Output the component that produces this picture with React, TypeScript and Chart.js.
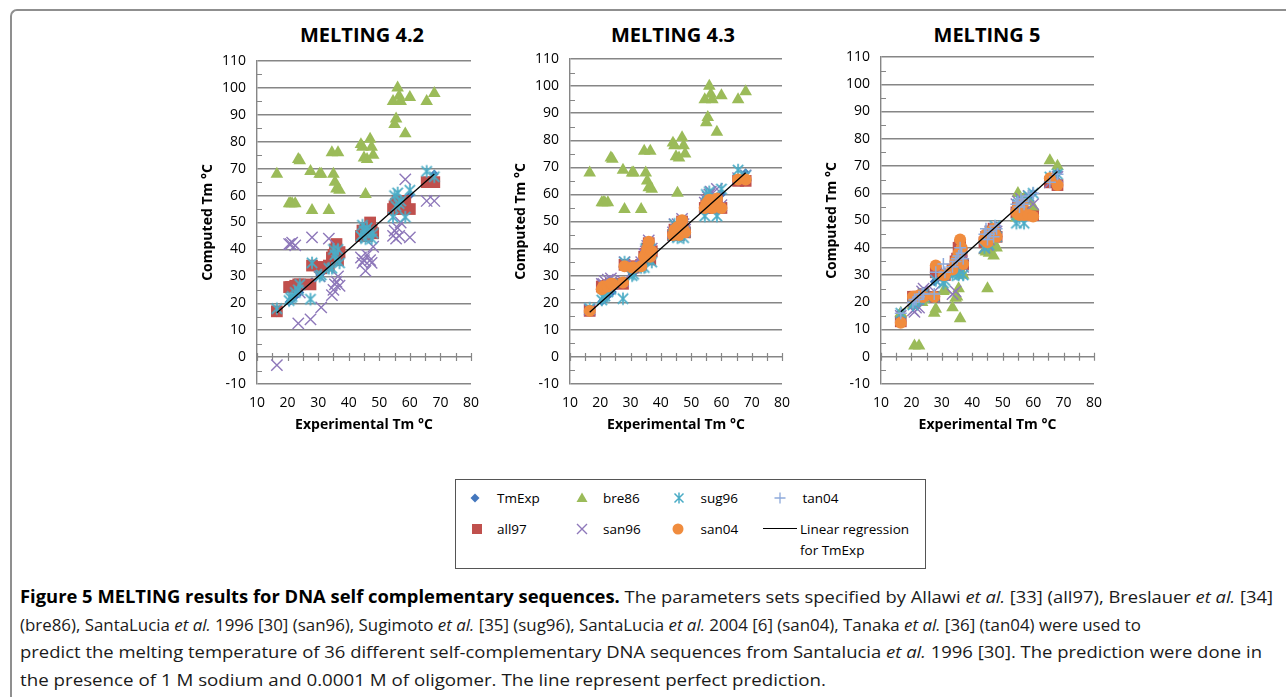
import React, { useEffect, useLayoutEffect, useRef } from "react";
import { Chart, registerables } from "chart.js";

Chart.register(...registerables);

// ---------------- data ----------------
const panelTitles = ["MELTING 4.2", "MELTING 4.3", "MELTING 5"];
const xAxisTitle = "Experimental Tm °C";
const yAxisTitle = "Computed Tm °C";

// experimental melting temperatures of the 36 sequences (x values, and TmExp y values)
const tmExp = [16.5, 20.5, 21, 21.5, 22.5, 23.5, 24, 27.5, 28, 30.5, 31, 33.5, 34.5, 35, 35.5, 36, 36.5, 37,
  44, 44.5, 45, 45.5, 46, 47, 47.5, 48, 54.5, 55, 55.5, 56, 56.5, 57, 58.5, 60, 65.5, 68];

// MELTING 4.2 and 4.3 (shared parameter sets)
const all97_v4x = [17, 26, 26, 26, 26.5, 27, 27, 27, 34, 33.5, 33, 34, 37, 38, 40, 42, 36, 39,
  45, 47, 46, 48, 45, 50, 47, 46, 55, 56, 57, 58, 56, 55, 58, 55, 65, 65];
const bre86_v4x = [68, 57, 57, 57, 57, 73.5, 73, 69, 54.5, 68, 68, 54.5, 76, 68, 65, 62.5, 76, 62,
  79, 78, 74, 60.5, 73.5, 81, 78, 75, 95, 86.5, 88.5, 100, 97, 95, 83, 96.5, 95, 98];
const sug96_v4x = [18, 21, 22, 22.5, 24, 25, 27, 21.5, 35, 30, 30.5, 33, 33, 40, 38, 36, 40, 35,
  45, 49, 47, 44, 48, 47, 44, 46, 52, 60, 56, 61, 57, 58, 52, 62, 69, 67];
// MELTING 4.2 only
const san96_v42 = [-3, 42, 42, 42.5, 41.5, 12.5, 24, 14, 44.5, 30, 18.5, 44, 23, 25, 27, 28, 30, 26.5,
  37, 35, 36, 32, 38, 36, 35, 41, 45, 47, 44, 48, 45, 50, 66, 44.5, 58, 58];
// MELTING 4.3 only
const san96_v43 = [17.5, 27, 27, 28, 28.5, 29, 28, 28, 35, 34, 34, 35, 38, 39, 41, 43, 38, 40,
  46, 49, 47, 49, 46, 51, 49, 47, 57, 58, 59, 60, 61, 57, 62, 56, 66, 67];
const san04_v43 = [17, 25, 26, 26, 26, 27, 27, 27.5, 33.5, 33, 33, 33.5, 37, 38, 40, 42.5, 37, 39,
  45, 47, 46, 48, 45, 50.5, 47, 46, 55, 56.5, 57, 58, 56, 55, 58.5, 55, 65.5, 65.5];
// MELTING 5
const all97_v5 = [13, 22, 22, 22, 22, 22, 23, 22, 31, 30, 30, 32, 35, 36, 40, 41, 38, 34,
  42, 44, 42, 44, 46, 47, 45, 44, 53, 55, 52, 54, 56, 52, 53, 52, 64, 63];
const bre86_v5 = [16, 19, 4, 20, 4, 20, 21, 16, 17.5, 24, 24.5, 18, 21.5, 22, 25, 14, 31, 30,
  39, 38.5, 25, 38, 40, 37, 41, 40, 51, 60, 55, 57, 55, 58, 57, 55, 72, 70];
const san96_v5 = [15, 17, 16.5, 18, 18, 24, 25, 24, 28, 30, 31, 23, 24, 33, 36, 37, 35, 33,
  40, 44, 41, 43, 46, 45, 47, 46, 56, 57, 54, 58, 57, 55, 59, 56, 64, 66];
const sug96_v5 = [16, 19, 20, 21, 21, 22, 23, 22, 28, 27, 28, 30, 31, 31, 30, 36, 37, 30,
  40, 44, 42, 41, 46, 45, 48, 44, 49, 56, 51, 57, 55, 49, 59, 60, 66, 67];
const san04_v5 = [12.5, 22, 22, 22, 22.5, 22, 22, 22, 33.5, 30, 30, 32, 35, 36, 38, 43, 40, 34,
  43, 45, 42, 44, 46, 47, 45, 44, 53, 55, 52, 54, 56, 52, 52, 51.5, 65.5, 63];
const tan04_v5 = [16, 20, 21, 21, 22, 23, 23, 23, 31, 34, 31, 33, 35, 36, 37, 40, 38, 36,
  45, 47, 43, 45, 46, 44, 48, 47, 56, 57, 55, 58, 57, 56, 59, 60, 64, 67];

const xRange = [10, 80];
const yRange = [-10, 110];

// ---------------- styles ----------------
const GRID = "#868686";
const FONT = "'Open Sans', sans-serif";

type SeriesStyle = { color: string; point: string; radius: number; order: number; stroke?: number };
const STYLE: Record<string, SeriesStyle> = {
  TmExp: { color: "#4477BD", point: "rectRot", radius: 4.5, order: 7 },
  all97: { color: "#C0504D", point: "rect", radius: 8.3, order: 6 },
  bre86: { color: "#9BBB59", point: "triangle", radius: 7.3, order: 5 },
  san96: { color: "#8E78BA", point: "crossRot", radius: 8, order: 4, stroke: 1.4 },
  sug96: { color: "#4BACC6", point: "asterisk", radius: 6.3, order: 3, stroke: 1.7 },
  san04: { color: "#F08C3E", point: "circle", radius: 6, order: 2 },
  tan04: { color: "#8EAADB", point: "cross", radius: 6, order: 1, stroke: 1.5 },
};

type PanelDef = {
  title: string;
  series: [string, number[]][];
  left: number; top: number; width: number; height: number; padTop: number; titleX: number;
};

const PANELS: PanelDef[] = [
  {
    title: panelTitles[0],
    series: [["TmExp", tmExp], ["all97", all97_v4x], ["bre86", bre86_v4x], ["san96", san96_v42], ["sug96", sug96_v4x]],
    left: 185, top: 15, width: 305, height: 423, padTop: 46, titleX: 362,
  },
  {
    title: panelTitles[1],
    series: [["TmExp", tmExp], ["all97", all97_v4x], ["bre86", bre86_v4x], ["san96", san96_v43], ["sug96", sug96_v4x], ["san04", san04_v43]],
    left: 498, top: 15, width: 303, height: 423, padTop: 44, titleX: 673,
  },
  {
    title: panelTitles[2],
    series: [["TmExp", tmExp], ["all97", all97_v5], ["bre86", bre86_v5], ["san96", san96_v5], ["sug96", sug96_v5], ["san04", san04_v5], ["tan04", tan04_v5]],
    left: 809, top: 15, width: 304, height: 423, padTop: 42, titleX: 987,
  },
];

function makeAsterisk(r: number, color: string, lw: number): HTMLCanvasElement {
  const s = Math.ceil(2 * r + 3);
  const c = document.createElement("canvas");
  c.width = s;
  c.height = s;
  const g = c.getContext("2d")!;
  const m = s / 2;
  const d = r * 0.82;
  g.strokeStyle = color;
  g.lineWidth = lw;
  g.beginPath();
  g.moveTo(m, m - r); g.lineTo(m, m + r);
  g.moveTo(m - d, m - d); g.lineTo(m + d, m + d);
  g.moveTo(m + d, m - d); g.lineTo(m - d, m + d);
  g.stroke();
  return c;
}

function regression(xs: number[], ys: number[]) {
  const n = xs.length;
  const mx = xs.reduce((a, b) => a + b, 0) / n;
  const my = ys.reduce((a, b) => a + b, 0) / n;
  let sxy = 0, sxx = 0;
  for (let i = 0; i < n; i++) { sxy += (xs[i] - mx) * (ys[i] - my); sxx += (xs[i] - mx) ** 2; }
  const b = sxy / sxx;
  const a = my - b * mx;
  const x0 = Math.min(...xs), x1 = Math.max(...xs);
  return [{ x: x0, y: a + b * x0 }, { x: x1, y: a + b * x1 }];
}

const excelAxes = {
  id: "excelAxes",
  beforeDatasetsDraw(chart: any) {
    const { ctx, scales, chartArea } = chart;
    const x = scales.x, y = scales.y;
    const y0 = y.getPixelForValue(0);
    ctx.save();
    ctx.strokeStyle = GRID;
    ctx.lineWidth = 1.2;
    ctx.beginPath();
    for (let v = x.min; v <= x.max; v += 5) {
      const px = Math.round(x.getPixelForValue(v)) + 0.5;
      ctx.moveTo(px, y0 - 4); ctx.lineTo(px, y0 + 4);
    }
    for (let v = y.min + 5; v < y.max; v += 10) {
      const py = Math.round(y.getPixelForValue(v)) + 0.5;
      ctx.moveTo(chartArea.left, py); ctx.lineTo(chartArea.left + 5, py);
    }
    ctx.stroke();
    ctx.restore();
  },
};

function ScatterPanel({ panel }: { panel: PanelDef }) {
  const ref = useRef<HTMLCanvasElement>(null);
  useEffect(() => {
    const canvas = ref.current;
    if (!canvas) return;
    const datasets: any[] = panel.series.map(([name, ys]) => {
      const st = STYLE[name];
      const pointStyle: any = st.point === "asterisk" ? makeAsterisk(st.radius, st.color, st.stroke || 1.5) : st.point;
      return {
        label: name,
        data: tmExp.map((x, i) => ({ x, y: ys[i] })),
        order: st.order,
        pointStyle,
        pointRadius: st.radius,
        pointHoverRadius: st.radius,
        backgroundColor: st.color,
        borderColor: st.color,
        pointBackgroundColor: st.color,
        pointBorderColor: st.color,
        pointBorderWidth: st.stroke || 0,
        borderWidth: st.stroke || 0,
      };
    });
    datasets.push({
      label: "Linear regression for TmExp",
      data: regression(tmExp, tmExp),
      order: 0,
      showLine: true,
      pointRadius: 0,
      borderColor: "#000",
      borderWidth: 1.3,
    });
    const chart = new Chart(canvas, {
      type: "scatter",
      data: { datasets },
      options: {
        responsive: false,
        animation: false,
        events: [],
        layout: { padding: { left: 15, top: panel.padTop, right: 15, bottom: 5 } },
        plugins: { legend: { display: false }, tooltip: { enabled: false }, title: { display: false } },
        scales: {
          x: {
            type: "linear",
            min: xRange[0],
            max: xRange[1],
            afterFit: (s: any) => { s.height = 49; },
            grid: { display: false, drawTicks: false },
            border: { display: false },
            ticks: { stepSize: 10, padding: 11, color: "#000", font: { family: FONT, size: 14 }, maxRotation: 0, autoSkip: false },
            title: { display: true, text: xAxisTitle, color: "#000", font: { family: FONT, size: 14, weight: "bold" }, padding: { top: 0, bottom: 0 } },
          },
          y: {
            type: "linear",
            min: yRange[0],
            max: yRange[1],
            afterFit: (s: any) => { s.width = 57; },
            grid: { color: GRID, lineWidth: 1.4, drawTicks: false },
            border: { display: true, color: GRID, width: 1.4 },
            ticks: { stepSize: 10, padding: 11, color: "#000", font: { family: FONT, size: 14 }, autoSkip: false },
            title: { display: true, text: yAxisTitle, color: "#000", font: { family: FONT, size: 14, weight: "bold" }, padding: { top: 0, bottom: 0 } },
          },
        },
      } as any,
      plugins: [excelAxes as any],
    });
    return () => chart.destroy();
  }, [panel]);
  return (
    <>
      <div style={{ position: "absolute", left: panel.titleX - 110, top: 21, width: 220, textAlign: "center", fontSize: 20, lineHeight: "28px", fontWeight: 700 }}>
        {panel.title}
      </div>
      <canvas ref={ref} width={panel.width} height={panel.height}
        style={{ position: "absolute", left: panel.left, top: panel.top, width: panel.width, height: panel.height }} />
    </>
  );
}

function Marker({ name, cx, cy }: { name: string; cx: number; cy: number }) {
  const st = STYLE[name];
  const c = st.color;
  let shape: React.ReactNode = null;
  if (name === "TmExp") shape = <polygon points="9,4.5 13.5,9 9,13.5 4.5,9" fill={c} />;
  if (name === "all97") shape = <rect x={4} y={4} width={10} height={10} fill={c} />;
  if (name === "bre86") shape = <polygon points="9,3.5 14.5,13 3.5,13" fill={c} />;
  if (name === "san96") shape = <path d="M4,4 L14,14 M14,4 L4,14" stroke={c} strokeWidth={1.4} />;
  if (name === "sug96") shape = <path d="M9,3.5 L9,14.5 M4.5,4.5 L13.5,13.5 M13.5,4.5 L4.5,13.5" stroke={c} strokeWidth={1.5} />;
  if (name === "san04") shape = <circle cx={9} cy={9} r={5.5} fill={c} />;
  if (name === "tan04") shape = <path d="M3.5,9 L14.5,9 M9,3.5 L9,14.5" stroke={c} strokeWidth={1.3} />;
  return (
    <svg width={18} height={18} style={{ position: "absolute", left: cx - 9, top: cy - 9 }}>{shape}</svg>
  );
}

const legendItems: [string, number, number, number][] = [
  ["TmExp", 475, 498, 497],
  ["bre86", 581.5, 498, 603],
  ["sug96", 679, 497.5, 700.5],
  ["tan04", 780, 498, 802.5],
  ["all97", 476.5, 529, 497],
  ["san96", 581.5, 529, 603],
  ["san04", 678, 529, 700.5],
];

function Legend() {
  const txt = (x: number, cy: number, s: string) => (
    <div style={{ position: "absolute", left: x, top: cy - 10, fontSize: 13.5, lineHeight: "20px", whiteSpace: "nowrap" }}>{s}</div>
  );
  return (
    <>
      <div style={{ position: "absolute", left: 455, top: 479, width: 471, height: 90, border: "1.5px solid #555", boxSizing: "border-box" }} />
      {legendItems.map(([name, mx, my, tx]) => (
        <React.Fragment key={name}>
          <Marker name={name} cx={mx} cy={my} />
          {txt(tx, my, name)}
        </React.Fragment>
      ))}
      <div style={{ position: "absolute", left: 763, top: 528, width: 34, height: 1.3, background: "#000" }} />
      {txt(800, 528.5, "Linear regression")}
      {txt(800, 550, "for TmExp")}
    </>
  );
}

function FitLine({ top, width, children }: { top: number; width: number; children: React.ReactNode }) {
  const ref = useRef<HTMLSpanElement>(null);
  useLayoutEffect(() => {
    const fit = () => {
      const el = ref.current;
      if (!el) return;
      el.style.transform = "none";
      const w = el.getBoundingClientRect().width;
      if (w > 0) el.style.transform = `scaleX(${width / w})`;
    };
    fit();
    const fonts = (document as any).fonts;
    if (fonts && fonts.ready) fonts.ready.then(fit);
  }, [width]);
  return (
    <span ref={ref} style={{ position: "absolute", left: 20, top, display: "inline-block", whiteSpace: "nowrap", transformOrigin: "0 50%", fontSize: 17, lineHeight: "24px", color: "#1a1a1a" }}>
      {children}
    </span>
  );
}

function Caption() {
  return (
    <>
      <FitLine top={585} width={1253}>
        <b style={{ color: "#000" }}>Figure 5 MELTING results for DNA self complementary sequences.</b> The parameters sets specified by Allawi <i>et al.</i> [33] (all97), Breslauer <i>et al.</i> [34]
      </FitLine>
      <FitLine top={613} width={1121}>
        (bre86), SantaLucia <i>et al.</i> 1996 [30] (san96), Sugimoto <i>et al.</i> [35] (sug96), SantaLucia <i>et al.</i> 2004 [6] (san04), Tanaka <i>et al.</i> [36] (tan04) were used to
      </FitLine>
      <FitLine top={640} width={1242}>
        predict the melting temperature of 36 different self-complementary DNA sequences from Santalucia <i>et al.</i> 1996 [30]. The prediction were done in
      </FitLine>
      <FitLine top={668} width={806}>
        the presence of 1 M sodium and 0.0001 M of oligomer. The line represent perfect prediction.
      </FitLine>
    </>
  );
}

export default function App() {
  return (
    <div style={{ position: "absolute", left: 0, top: 0, width: 1286, height: 697, overflow: "hidden", background: "#fff", fontFamily: FONT, color: "#000" }}>
      <div style={{ position: "absolute", left: 10, top: 9, width: 1400, height: 800, borderLeft: "2px solid #8f8f8f", borderTop: "2px solid #8f8f8f", borderTopLeftRadius: 7 }} />
      {PANELS.map((p, i) => <ScatterPanel key={i} panel={p} />)}
      <Legend />
      <Caption />
    </div>
  );
}
